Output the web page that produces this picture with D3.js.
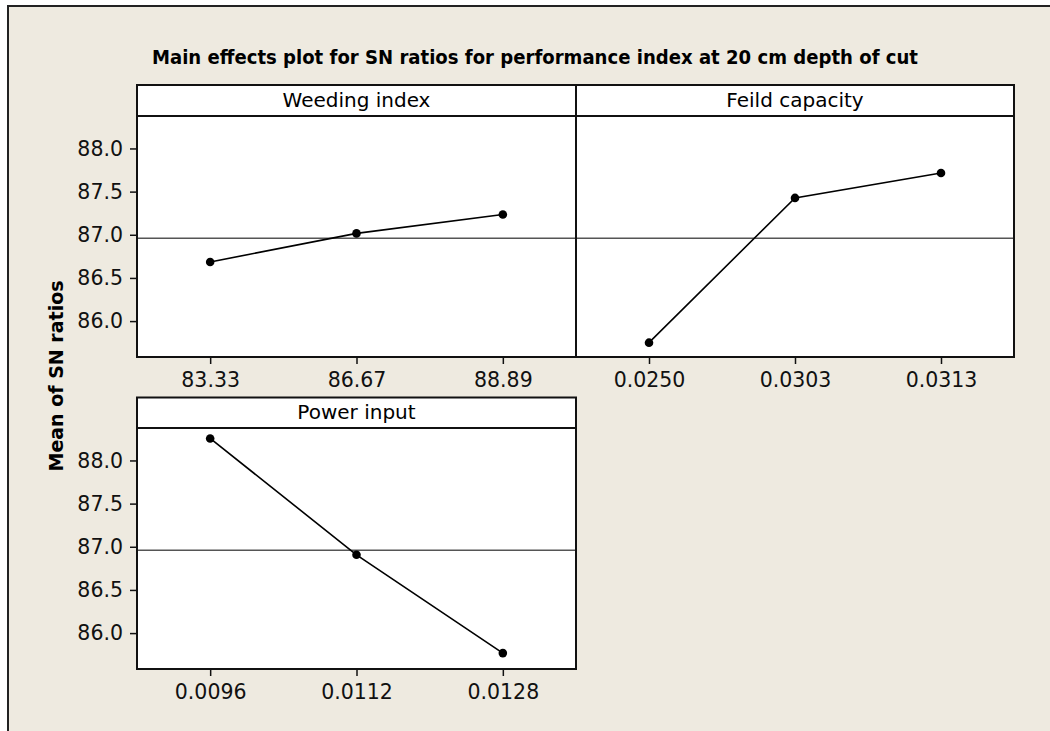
<!DOCTYPE html>
<html>
<head>
<meta charset="utf-8">
<script src="https://cdn.jsdelivr.net/npm/d3@7"></script>
<style>
  html, body { margin: 0; padding: 0; background: #fff; }
  svg { display: block; }
</style>
</head>
<body>
<svg id="viz" width="1050" height="731"></svg>
<script>
// data
const chartTitle = "Main effects plot for SN ratios for performance index at 20 cm depth of cut";
const yTitle = "Mean of SN ratios";
const factors = ["Weeding index", "Feild capacity", "Power input"];
const levelLabels = [
    ["83.33", "86.67", "88.89"],
    ["0.0250", "0.0303", "0.0313"],
    ["0.0096", "0.0112", "0.0128"]
];
const snMeans = [
    [86.685, 87.016, 87.235],
    [85.75, 87.427, 87.716],
    [88.255, 86.907, 85.768]
];
const grandMean = 86.96;
const yTicks = [86.0, 86.5, 87.0, 87.5, 88.0];

const svg = d3.select("#viz");
const font = "'DejaVu Sans', Verdana, sans-serif";

// beige frame
svg.append("rect")
    .attr("x", 8).attr("y", 6)
    .attr("width", 1050).attr("height", 740)
    .attr("fill", "#eeeae0")
    .attr("stroke", "#222").attr("stroke-width", 2);

svg.append("text")
    .attr("x", 535).attr("y", 64)
    .attr("text-anchor", "middle")
    .attr("textLength", 766).attr("lengthAdjust", "spacingAndGlyphs")
    .style("font-family", font).style("font-weight", "bold").style("font-size", "19px")
    .text(chartTitle);

svg.append("text")
    .attr("transform", "translate(63,376) rotate(-90)")
    .attr("text-anchor", "middle")
    .style("font-family", font).style("font-weight", "bold").style("font-size", "19px")
    .text(yTitle);

// panel grid: columns and rows
const cols = [[137, 576], [576, 1014]];
const rows = [
    {stripTop: 85, top: 116, bottom: 357},
    {stripTop: 397.5, top: 428, bottom: 669}
];

factors.forEach((name, i) => {
    const col = cols[i % 2], row = rows[Math.floor(i / 2)];
    const g = svg.append("g");

    const x = d3.scalePoint()
        .domain(levelLabels[i])
        .range(col)
        .padding(0.5);
    const y = d3.scaleLinear()
        .domain([85.584, 88.376])
        .range([row.bottom, row.top]);

    // plot area + strip
    g.append("rect")
        .attr("x", col[0]).attr("y", row.top)
        .attr("width", col[1] - col[0]).attr("height", row.bottom - row.top)
        .attr("fill", "#fff");
    g.append("rect")
        .attr("x", col[0]).attr("y", row.stripTop)
        .attr("width", col[1] - col[0]).attr("height", row.top - row.stripTop)
        .attr("fill", "#fff").attr("stroke", "#111").attr("stroke-width", 2);
    g.append("text")
        .attr("x", (col[0] + col[1]) / 2).attr("y", row.top - 9)
        .attr("text-anchor", "middle")
        .style("font-family", font).style("font-size", "20px")
        .text(name);

    // mean reference line
    g.append("line")
        .attr("x1", col[0]).attr("x2", col[1])
        .attr("y1", y(grandMean)).attr("y2", y(grandMean))
        .attr("stroke", "#555").attr("stroke-width", 1.5);

    const pts = levelLabels[i].map((l, j) => ({l: l, v: snMeans[i][j]}));
    g.append("path")
        .datum(pts)
        .attr("fill", "none").attr("stroke", "#000").attr("stroke-width", 1.6)
        .attr("d", d3.line().x(d => x(d.l)).y(d => y(d.v)));
    g.selectAll("circle")
        .data(pts)
        .enter().append("circle")
        .attr("cx", d => x(d.l)).attr("cy", d => y(d.v))
        .attr("r", 4.3).attr("fill", "#000");

    // panel border
    g.append("rect")
        .attr("x", col[0]).attr("y", row.top)
        .attr("width", col[1] - col[0]).attr("height", row.bottom - row.top)
        .attr("fill", "none").attr("stroke", "#111").attr("stroke-width", 2);

    // x axis
    const xa = g.append("g")
        .attr("transform", `translate(0,${row.bottom})`)
        .call(d3.axisBottom(x).tickSize(7).tickPadding(8));
    xa.select(".domain").remove();
    xa.selectAll("line").attr("stroke", "#111").attr("stroke-width", 1.5);
    xa.selectAll("text").style("font-family", font).style("font-size", "20.5px").attr("fill", "#111");

    // y axis only on left column
    if (i % 2 === 0) {
        const ya = g.append("g")
            .attr("transform", `translate(${col[0]},0)`)
            .call(d3.axisLeft(y).tickValues(yTicks).tickFormat(d3.format(".1f")).tickSize(7).tickPadding(7));
        ya.select(".domain").remove();
        ya.selectAll("line").attr("stroke", "#111").attr("stroke-width", 1.5);
        ya.selectAll("text").style("font-family", font).style("font-size", "20.5px").attr("fill", "#111");
    }
});
</script>
</body>
</html>
